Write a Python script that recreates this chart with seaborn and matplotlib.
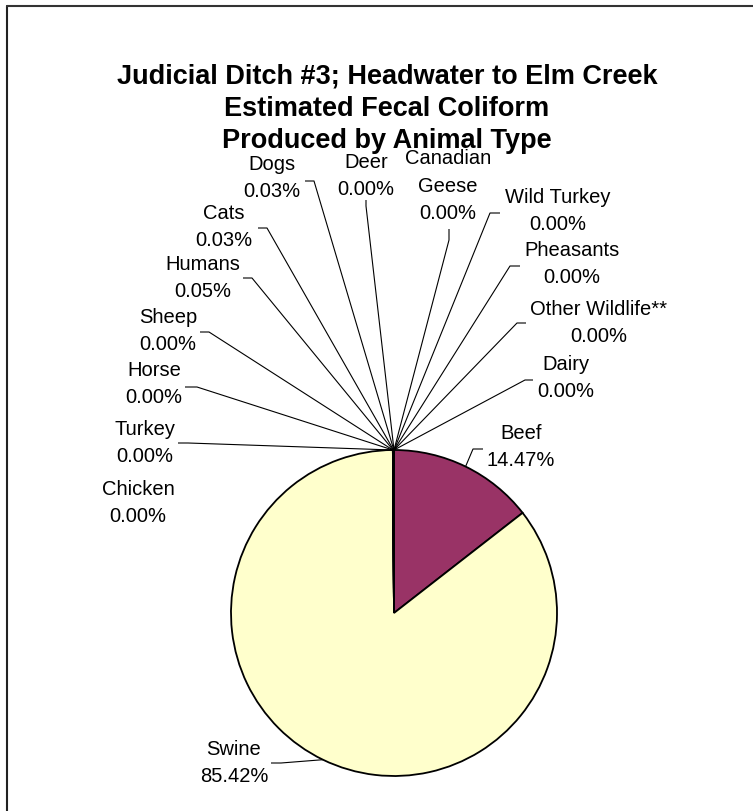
import matplotlib
matplotlib.use("Agg")
import matplotlib.pyplot as plt
from matplotlib.lines import Line2D
import seaborn as sns
import numpy as np
import pandas as pd

# ---------------- data ----------------
categories = ["Dairy", "Beef", "Swine", "Chicken", "Turkey", "Horse", "Sheep",
              "Humans", "Cats", "Dogs", "Deer", "Canadian\nGeese", "Wild Turkey",
              "Pheasants", "Other Wildlife**"]
percent = [0.00, 14.47, 85.42, 0.00, 0.00, 0.00, 0.00,
           0.05, 0.03, 0.03, 0.00, 0.00, 0.00, 0.00, 0.00]
slice_colors = ["#9999FF", "#993366", "#FFFFCC", "#CCFFFF", "#660066", "#FF8080",
                "#0066CC", "#CCCCFF", "#000080", "#FF00FF", "#FFFF00", "#00FFFF",
                "#800080", "#800000", "#008080"]
title = "Judicial Ditch #3; Headwater to Elm Creek\nEstimated Fecal Coliform\nProduced by Animal Type"

df = pd.DataFrame({"category": categories, "percent": percent, "color": slice_colors})

# ---------------- layout (pixels, y from top) ----------------
W, H = 753, 811
CX, CY, R = 394, 613, 163
# label text centre, leader elbow, leader end (None = no leader)
layout = {
    "Dairy":            ((566, 378), (525, 380), (533, 380)),
    "Beef":             ((521, 447), (473, 449), (483, 449)),
    "Swine":            ((234, 763), (281, 763), (271, 763)),
    "Chicken":          ((138, 503), None, None),
    "Turkey":           ((145, 443), (188, 443), (178, 443)),
    "Horse":            ((154, 384), (197, 387), (185, 387)),
    "Sheep":            ((168, 331), (209, 332), (200, 332)),
    "Humans":           ((203, 278), (252, 278), (243, 278)),
    "Cats":             ((224, 227), (267, 228), (258, 228)),
    "Dogs":             ((272, 178), (314, 181), (305, 181)),
    "Deer":             ((366, 176), (366, 206), (366, 200)),
    "Canadian\nGeese":  ((448, 186), (449, 240), (449, 229)),
    "Wild Turkey":      ((558, 211), (490, 213), (500, 213)),
    "Pheasants":        ((572, 264), (510, 266), (520, 266)),
    "Other Wildlife**": ((599, 323), (517, 323), (526, 323)),
}

sns.set_theme(style="white")
plt.rcParams["font.family"] = ["Liberation Sans", "DejaVu Sans"]

fig = plt.figure(figsize=(W / 100, H / 100), dpi=100)
fig.patch.set_facecolor("white")
ax = fig.add_axes([0, 0, 1, 1])

def py(y):
    return H - y

ax.pie(df["percent"], colors=df["color"], startangle=90, counterclock=False,
       center=(CX, py(CY)), radius=R, frame=True,
       wedgeprops=dict(edgecolor="black", linewidth=1.3, antialiased=True))
ax.set_xlim(0, W)
ax.set_ylim(0, H)
ax.set_aspect("equal")
ax.axis("off")

# leader lines and labels
cum = np.cumsum([0] + list(df["percent"]))[:-1]
total = df["percent"].sum()
for i, row in df.iterrows():
    theta = np.deg2rad(360 * (cum[i] + row["percent"] / 2) / total)
    ex = CX + R * np.sin(theta)
    ey = py(CY) + R * np.cos(theta)
    (tx, ty), elbow, end = layout[row["category"]]
    if elbow is not None:
        ax.plot([ex, elbow[0], end[0]], [ey, py(elbow[1]), py(end[1])],
                color="black", lw=0.8, solid_capstyle="butt")
    ax.text(tx, py(ty), f"{row['category']}\n{row['percent']:.2f}%",
            ha="center", va="center", fontsize=14.5, linespacing=1.55,
            color="black")

fig.text(387 / W, 1 - 109 / H, title, ha="center", va="center",
         fontsize=19.5, fontweight="bold", linespacing=1.3, color="black")

# chart frame (top and left edges visible in the crop)
fig.add_artist(Line2D([7 / W, 7 / W], [0, 1 - 6 / H], transform=fig.transFigure,
                      color="#222222", lw=1.5))
fig.add_artist(Line2D([7 / W, 1], [1 - 6 / H, 1 - 6 / H], transform=fig.transFigure,
                      color="#333333", lw=1.5))

fig.savefig("out.png", dpi=100)
